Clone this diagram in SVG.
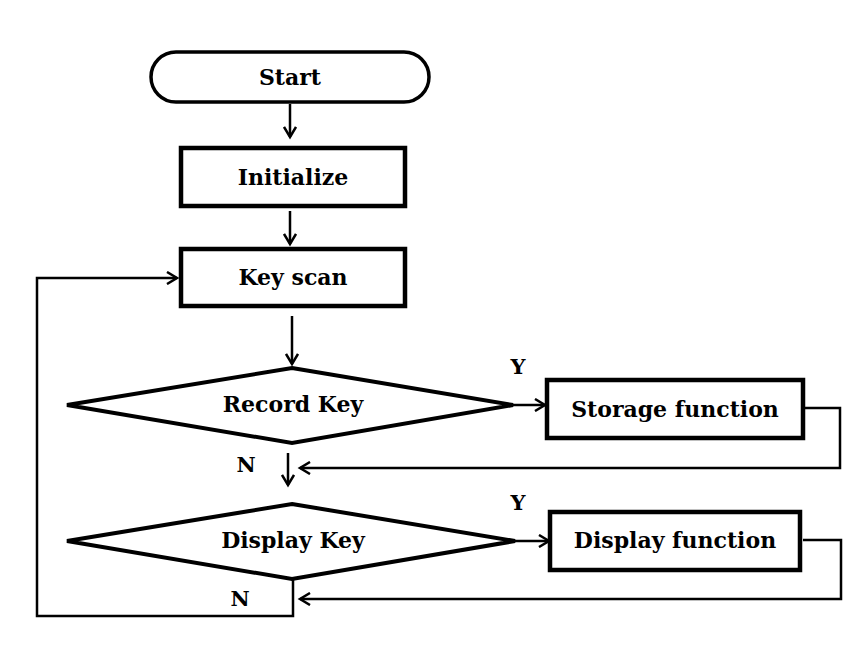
<svg xmlns="http://www.w3.org/2000/svg" width="866" height="649" viewBox="0 0 866 649">
<defs>
<marker id="arr" markerWidth="14" markerHeight="14" refX="11" refY="7" orient="auto" markerUnits="userSpaceOnUse">
<path d="M1,1 L11,7 L1,13" fill="none" stroke="#000" stroke-width="2.5"/>
</marker>
<style>
.box{fill:#fff;stroke:#000;stroke-width:4.5}
.dia{fill:#fff;stroke:#000;stroke-width:4}
.con{fill:none;stroke:#000;stroke-width:2.5}
.t{font-family:"DejaVu Serif","Liberation Serif",serif;font-weight:bold;font-size:22px;text-anchor:middle;dominant-baseline:central;fill:#000}
.l{font-family:"DejaVu Serif","Liberation Serif",serif;font-weight:bold;font-size:21px;text-anchor:middle;dominant-baseline:central;fill:#000}
</style>
</defs>
<rect width="866" height="649" fill="#fff"/>
<g id="connectors">
<line class="con" x1="290" y1="104" x2="290" y2="137" marker-end="url(#arr)"/>
<line class="con" x1="290" y1="211" x2="290" y2="244" marker-end="url(#arr)"/>
<line class="con" x1="292" y1="316" x2="292" y2="364" marker-end="url(#arr)"/>
<line class="con" x1="513" y1="405" x2="545" y2="405" marker-end="url(#arr)"/>
<polyline class="con" points="805,408 840,408 840,468 300,468" marker-end="url(#arr)"/>
<line class="con" x1="288" y1="453" x2="288" y2="485" marker-end="url(#arr)"/>
<line class="con" x1="515" y1="541" x2="549" y2="541" marker-end="url(#arr)"/>
<polyline class="con" points="803,540 841,540 841,599 300,599" marker-end="url(#arr)"/>
<polyline class="con" points="293,580 293,616 37,616 37,278 177,278" marker-end="url(#arr)"/>
<text class="l" x="518" y="366">Y</text>
<text class="l" x="246" y="464">N</text>
<text class="l" x="518" y="502">Y</text>
<text class="l" x="240" y="598">N</text>
</g>
<g id="start">
<rect x="151" y="52" width="278" height="50" rx="25" ry="25" fill="#fff" stroke="#000" stroke-width="3.5"/>
<text class="t" x="290" y="77">Start</text>
</g>
<g id="initialize">
<rect class="box" x="181" y="148" width="224" height="58"/>
<text class="t" x="293" y="177">Initialize</text>
</g>
<g id="keyscan">
<rect class="box" x="181" y="249" width="224" height="57"/>
<text class="t" x="293" y="277">Key scan</text>
</g>
<g id="recordkey">
<polygon class="dia" points="292,368 513,405 292,443 67,405"/>
<text class="t" x="293" y="404">Record Key</text>
</g>
<g id="storage">
<rect class="box" x="547" y="380" width="256" height="58"/>
<text class="t" x="675" y="409">Storage function</text>
</g>
<g id="displaykey">
<polygon class="dia" points="292,504 515,541 292,579 67,541"/>
<text class="t" x="293" y="540">Display Key</text>
</g>
<g id="displayfn">
<rect class="box" x="550" y="512" width="250" height="58"/>
<text class="t" x="675" y="540">Display function</text>
</g>
</svg>
